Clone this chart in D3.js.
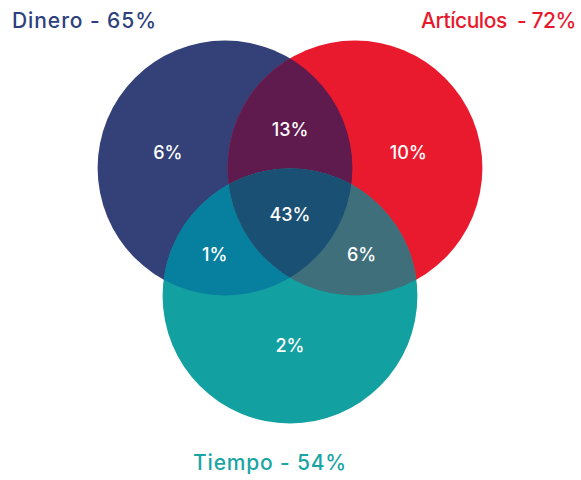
<!DOCTYPE html>
<html><head><meta charset="utf-8">
<script src="https://cdn.jsdelivr.net/npm/d3@7"></script>
<style>body{margin:0;background:#fff}</style>
</head><body>
<svg id="c" width="581" height="480"></svg>
<script>
// Data
const sets = ["Dinero", "Artículos", "Tiempo"];
const setTotals = [65, 72, 54];
const setColors = ["#344179", "#ea1a2e", "#13a0a0"];
const titleColors = ["#2e3f7e", "#e8192c", "#1aa4a4"];
// Region labels (only-set and intersections)
const regionKeys = ["D", "A", "T", "DA", "DT", "AT", "DAT"];
const regionValues = [6, 10, 2, 13, 1, 6, 43];
const pairColors = { DA: "#5f1a4e", DT: "#077f9e", AT: "#3f6f7a" };
const tripleColor = "#1b5075";

// Layout (unit coordinates for circle centres)
const circleX = [-0.5, 0.5, 0];
const circleY = [-0.5, -0.5, 0.5];
const radiusUnits = 0.98;
const x = d3.scaleLinear().domain([-1, 1]).range([160, 420]);
const y = d3.scaleLinear().domain([-1, 1]).range([104, 360]);
const rPx = radiusUnits * (x(1) - x(0));

const svg = d3.select("#c");
const defs = svg.append("defs");
const circles = sets.map((s, i) => ({ name: s, cx: x(circleX[i]), cy: y(circleY[i]), r: rPx, color: setColors[i] }));
circles.forEach((c, i) => {
  defs.append("clipPath").attr("id", "clip" + i)
    .append("circle").attr("cx", c.cx).attr("cy", c.cy).attr("r", c.r);
});

// Base circles
svg.append("g").selectAll("circle").data(circles).join("circle")
  .attr("cx", d => d.cx).attr("cy", d => d.cy).attr("r", d => d.r).attr("fill", d => d.color);

// Pairwise intersections
const letters = ["D", "A", "T"];
[[0, 1], [0, 2], [1, 2]].forEach(([a, b]) => {
  const key = letters[a] + letters[b];
  svg.append("g").attr("clip-path", `url(#clip${a})`)
    .append("circle").attr("cx", circles[b].cx).attr("cy", circles[b].cy).attr("r", circles[b].r)
    .attr("fill", pairColors[key]);
});
// Triple intersection
svg.append("g").attr("clip-path", "url(#clip0)")
  .append("g").attr("clip-path", "url(#clip1)")
  .append("circle").attr("cx", circles[2].cx).attr("cy", circles[2].cy).attr("r", circles[2].r)
  .attr("fill", tripleColor);

// Region label positions (unit coords)
const labelPos = {
  D: [-0.94, -0.625], A: [0.91, -0.625], T: [0, 0.89],
  DA: [0, -0.8], DT: [-0.58, 0.172], AT: [0.55, 0.172], DAT: [0, -0.133]
};
svg.append("g").selectAll("text").data(regionKeys.map((k, i) => ({ k, v: regionValues[i] })))
  .join("text")
  .attr("x", d => x(labelPos[d.k][0])).attr("y", d => y(labelPos[d.k][1]))
  .attr("text-anchor", "middle").attr("dominant-baseline", "central")
  .attr("fill", "#fff").attr("font-family", "Inter, 'Open Sans', sans-serif")
  .attr("font-size", 18).attr("font-weight", 500)
  .text(d => d.v + "%");

// Set titles
const titlePos = [
  { x: 12, y: 28, len: 145 },
  { x: 421, y: 28, len: 155 },
  { x: 193, y: 470, len: 154 }
];
svg.append("g").selectAll("text").data(sets.map((s, i) => ({ s, i })))
  .join("text")
  .attr("x", d => titlePos[d.i].x).attr("y", d => titlePos[d.i].y)
  .attr("text-anchor", "start")
  .attr("fill", d => titleColors[d.i])
  .attr("font-family", "Inter, 'Open Sans', sans-serif")
  .attr("font-size", 21).attr("font-weight", 500)
  .style("white-space", "pre")
  .text(d => d.i === 1 ? `${d.s}  - ${setTotals[d.i]}%` : `${d.s} - ${setTotals[d.i]}%`)
  .each(function (d) {
    const el = d3.select(this);
    const n = this.getNumberOfChars();
    const natural = this.getComputedTextLength();
    const ls = (titlePos[d.i].len - natural) / n;
    el.attr("letter-spacing", ls.toFixed(2));
  });
</script>
</body></html>
